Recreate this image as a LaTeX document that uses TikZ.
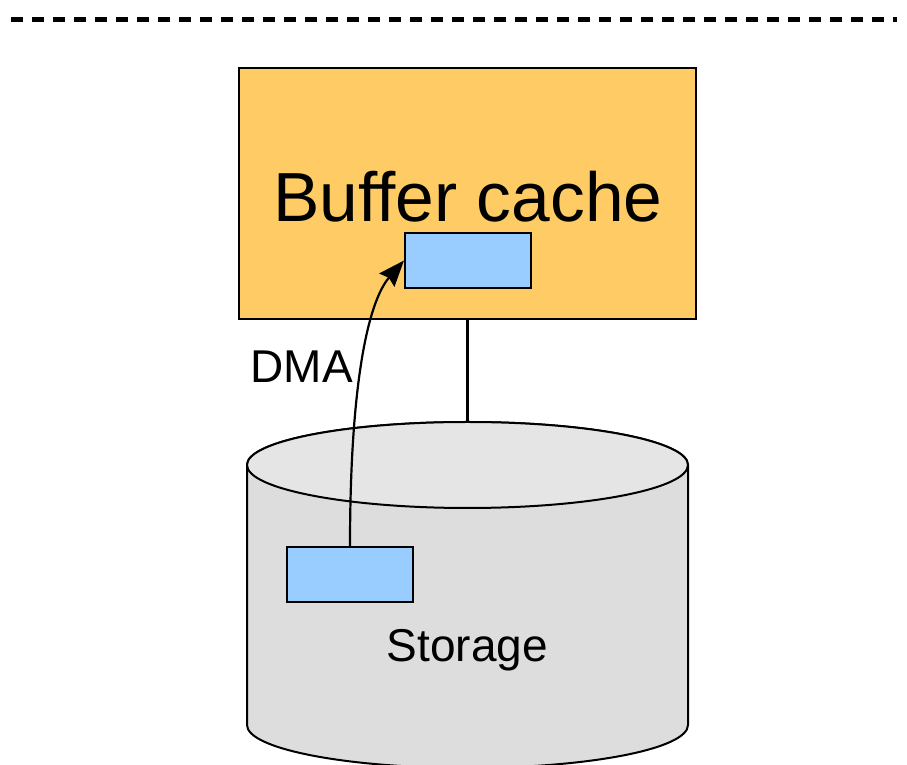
\documentclass[tikz,border=0pt]{standalone}
\usepackage{fontspec}
\setmainfont{Liberation Sans}
\usetikzlibrary{arrows.meta}

\begin{document}
\begin{tikzpicture}[x=1pt,y=1pt,
  block/.style={draw,line width=2pt,fill=blockblue,minimum width=126pt,minimum height=55pt,inner sep=0pt},
  cachebox/.style={draw,line width=2.5pt,fill=cacheorange,minimum width=457pt,minimum height=251pt,inner sep=0pt},
  disk/.style={draw,line width=2pt},
  big/.style={font=\fontsize{69.5pt}{80pt}\selectfont},
  mid/.style={font=\fontsize{46pt}{54pt}\selectfont}]
\definecolor{cacheorange}{HTML}{FECB65}
\definecolor{blockblue}{HTML}{99CCFF}
\definecolor{diskside}{HTML}{DDDDDD}
\definecolor{disktop}{HTML}{E5E5E5}
\useasboundingbox (0,0) rectangle (907,765);
% kernel / user boundary
\draw[line width=4.5pt,dash pattern=on 12pt off 9pt] (11,745.5) -- (897,745.5);
% storage cylinder
\draw[disk,fill=diskside] (247,300) -- (247,40) arc[start angle=180,end angle=360,x radius=220.5,y radius=43]
  -- (688,300) arc[start angle=0,end angle=180,x radius=220.5,y radius=43] -- cycle;
\draw[disk,fill=disktop] (467.5,300) ellipse[x radius=220.5,y radius=43];
\coordinate (storagetop) at (467.5,343);
\node[mid,anchor=base] (storage) at (467.5,103) {Storage};
% buffer cache
\node[cachebox] (cache) at (467.5,571.5) {};
\node[big,anchor=base] (cachelbl) at (468,543) {Buffer cache};
\foreach \nm/\x/\y in {cacheblk/468/504.5,diskblk/350/190.5}
  {  \node[block] (\nm) at (\x,\y) {};}
\draw[line width=2.2pt] (cache.south) -- (storagetop);
\draw[line width=2.2pt,-{Stealth[length=26pt,width=20pt,inset=3pt]}] (diskblk.north) .. controls +(0,167) and +(-35,-40) .. (cacheblk.west);
\node[mid,anchor=base west] (dma) at (247,382) {DMA};
\end{tikzpicture}
\end{document}
